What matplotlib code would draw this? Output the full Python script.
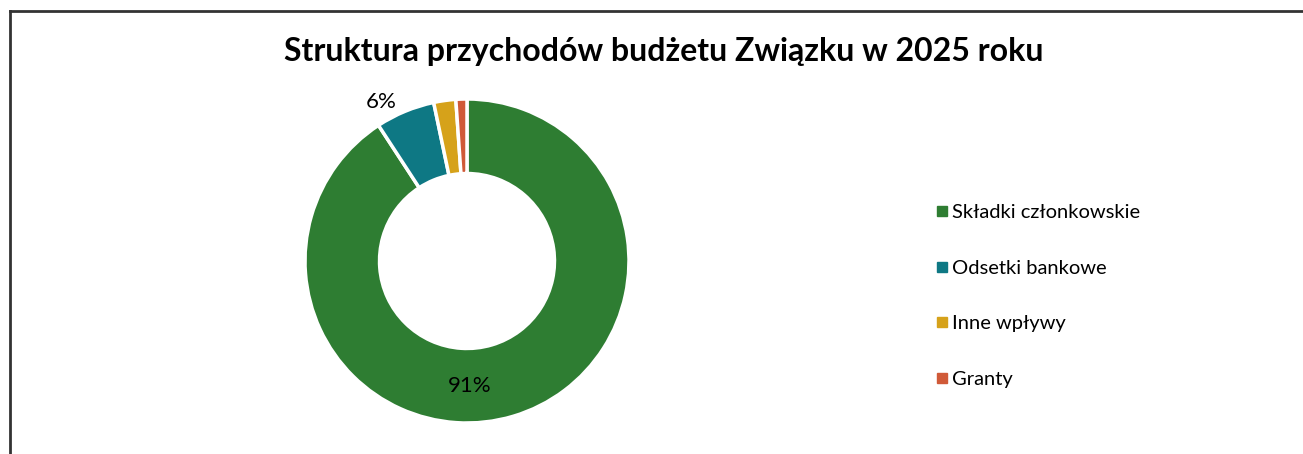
import numpy as np
import matplotlib.pyplot as plt
from matplotlib.lines import Line2D

plt.rcParams["font.family"] = ["Lato", "DejaVu Sans"]

# data
categories = ["Składki członkowskie", "Odsetki bankowe", "Inne wpływy", "Granty"]
shares = [90.8, 5.9, 2.2, 1.1]
labels = ["91%", "6%", "", ""]
colors = ["#2E7D32", "#0E7884", "#D6A21A", "#D05A38"]
title = "Struktura przychodów budżetu Związku w 2025 roku"

W, H = 1303, 454
fig = plt.figure(figsize=(W / 100, H / 100), dpi=100)
ax = fig.add_axes([0, 0, 1, 1])

cx, cy, R = 467, H - 261, 162
wedges, _ = ax.pie(shares, colors=colors, startangle=90, counterclock=False,
                   center=(cx, cy), radius=R, frame=True,
                   wedgeprops=dict(width=R * 0.46, edgecolor="white", linewidth=2.5))
ax.set_xlim(0, W)
ax.set_ylim(0, H)
ax.set_aspect("equal")
ax.axis("off")

# data labels
ax.text(cx + 3, cy - 125, labels[0], ha="center", va="center", fontsize=16)
w = wedges[1]
mid = np.deg2rad((w.theta1 + w.theta2) / 2)
ax.text(cx + 1.12 * R * np.cos(mid) - 16, cy + 1.12 * R * np.sin(mid) - 9, labels[1],
        ha="center", va="center", fontsize=16)

ax.text(664, H - 51, title, ha="center", va="center", fontsize=23, fontweight="bold")

handles = [Line2D([0], [0], marker="s", linestyle="none", markersize=7,
                  markerfacecolor=c, markeredgecolor=c) for c in colors]
ax.legend(handles, categories, loc="center left", bbox_to_anchor=(916 / W, 1 - 296 / H),
          frameon=False, fontsize=14.5, labelspacing=1.92, handletextpad=0.1,
          handlelength=0.8)

# outer chart border (cropped at right and bottom)
ax.plot([9.5, W], [H - 10.5, H - 10.5], color="#333333", lw=2, solid_capstyle="projecting")
ax.plot([9.5, 9.5], [0, H - 10.5], color="#333333", lw=2, solid_capstyle="projecting")

fig.savefig("out.png", dpi=100)
